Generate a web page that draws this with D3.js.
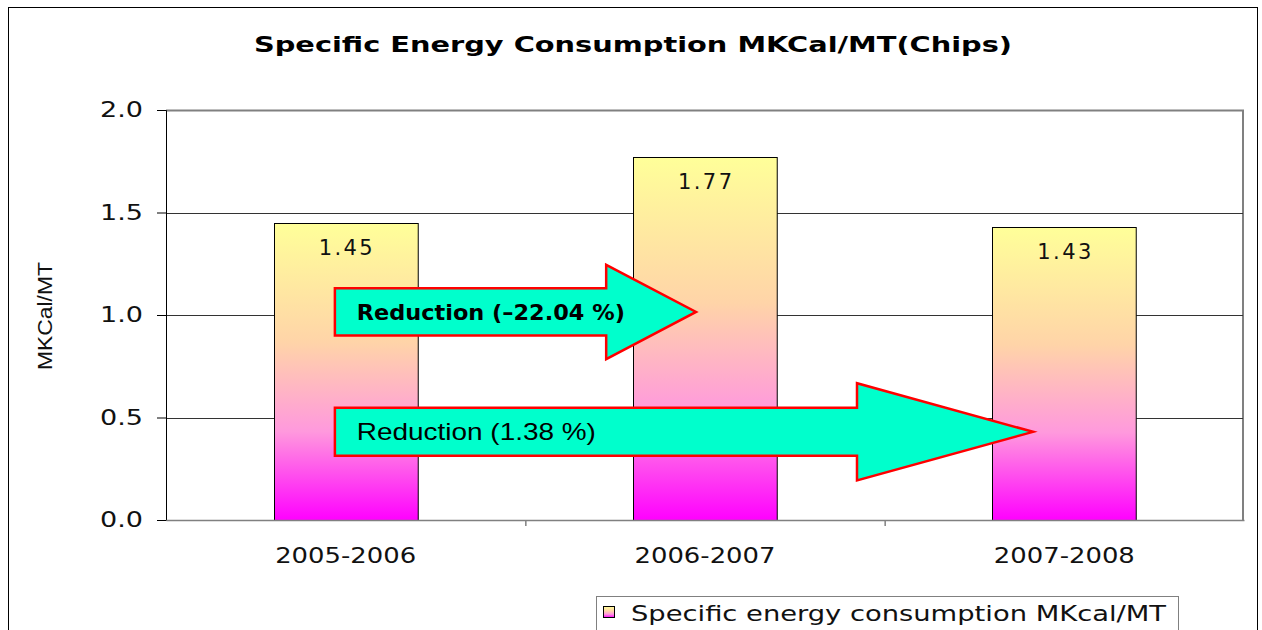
<!DOCTYPE html>
<html>
<head>
<meta charset="utf-8">
<script src="https://cdn.jsdelivr.net/npm/d3@7"></script>
<style>
  body { margin: 0; background: #fff; }
  svg { display: block; }
  .tick text { font-family: "DejaVu Sans", sans-serif; }
</style>
</head>
<body>
<div id="vis"></div>
<script>
// chart frame
const FRAME_WIDTH = 1262;
const FRAME_HEIGHT = 630;
const MARGINS = {left: 166, right: 18, top: 110, bottom: 110};

const VIS_WIDTH = FRAME_WIDTH - MARGINS.left - MARGINS.right;
const VIS_HEIGHT = FRAME_HEIGHT - MARGINS.top - MARGINS.bottom;

// data
const years = ["2005-2006", "2006-2007", "2007-2008"];
const consumption = [1.45, 1.77, 1.43];
const yTicks = [0, 0.5, 1.0, 1.5, 2.0];

// reduction arrows: start / head base / tip in category units, y centre in MKCal/MT
const arrowLabels = ["Reduction (\u201322.04 %)", "Reduction (1.38 %)"];
const arrowStart = [0.47, 0.47];
const arrowHeadBase = [1.225, 1.923];
const arrowTip = [1.475, 2.413];
const arrowCentre = [1.015, 0.43];
const arrowBodyHalf = [0.115, 0.117];
const arrowHeadHalf = [0.23, 0.237];

const svg = d3.select("#vis")
  .append("svg")
    .attr("width", FRAME_WIDTH)
    .attr("height", FRAME_HEIGHT);

// bar gradient
const defs = svg.append("defs");
const grad = defs.append("linearGradient")
    .attr("id", "barGrad")
    .attr("x1", 0).attr("y1", 0).attr("x2", 0).attr("y2", 1);
[["0%", "#ffff99"], ["40%", "#ffd4a8"], ["70%", "#ff99dd"], ["100%", "#ff00ff"]]
  .forEach(s => grad.append("stop").attr("offset", s[0]).attr("stop-color", s[1]));

// outer border
svg.append("rect")
    .attr("x", 8.5).attr("y", 7.5)
    .attr("width", 1249).attr("height", 640)
    .attr("fill", "#fff")
    .attr("stroke", "#000");

svg.append("text")
    .attr("x", 633).attr("y", 52)
    .attr("text-anchor", "middle")
    .attr("font-family", "DejaVu Sans, sans-serif")
    .attr("font-weight", "bold")
    .attr("font-size", "22px")
    .attr("textLength", 758)
    .attr("lengthAdjust", "spacingAndGlyphs")
    .text("Specific Energy Consumption MKCal/MT(Chips)");

const X_SCALE = d3.scaleBand()
    .domain(years)
    .range([0, VIS_WIDTH])
    .paddingInner(0.6)
    .paddingOuter(0.3);

// continuous scale in category units for the arrows
const X_POS = d3.scaleLinear()
    .domain([0, years.length])
    .range([0, VIS_WIDTH]);

const Y_SCALE = d3.scaleLinear()
    .domain([0, 2])
    .range([VIS_HEIGHT, 0]);

const g = svg.append("g")
    .attr("transform", "translate(" + MARGINS.left + "," + MARGINS.top + ")");

// plot area border (top / right)
g.append("path")
    .attr("d", "M0,0.5H" + (VIS_WIDTH - 1) + "V" + VIS_HEIGHT)
    .attr("fill", "none")
    .attr("stroke", "#808080")
    .attr("stroke-width", 2);

// gridlines
g.selectAll(".grid")
  .data(yTicks.filter(d => d > 0 && d < 2))
  .enter()
  .append("line")
    .attr("x1", 0).attr("x2", VIS_WIDTH - 1)
    .attr("y1", d => Math.round(Y_SCALE(d)) + 0.5)
    .attr("y2", d => Math.round(Y_SCALE(d)) + 0.5)
    .attr("stroke", "#333");

// bars
g.selectAll(".bar")
  .data(consumption)
  .enter()
  .append("rect")
    .attr("x", (d, i) => Math.round(X_SCALE(years[i])) + 0.5)
    .attr("y", d => Math.round(Y_SCALE(d)) + 0.5)
    .attr("width", X_SCALE.bandwidth())
    .attr("height", d => VIS_HEIGHT - Math.round(Y_SCALE(d)))
    .attr("fill", "url(#barGrad)")
    .attr("stroke", "#000");

g.selectAll(".val")
  .data(consumption)
  .enter()
  .append("text")
    .attr("x", (d, i) => X_SCALE(years[i]) + X_SCALE.bandwidth() / 2)
    .attr("y", d => Y_SCALE(d) + 32)
    .attr("text-anchor", "middle")
    .attr("font-family", "DejaVu Sans, sans-serif")
    .attr("font-size", "21px")
    .attr("textLength", 54)
    .attr("lengthAdjust", "spacing")
    .attr("fill", "#111")
    .text(d => d.toFixed(2));

// y axis
const yAxis = g.append("g")
    .call(d3.axisLeft(Y_SCALE).tickValues(yTicks).tickFormat(d3.format(".1f")).tickSize(9).tickPadding(22));
yAxis.selectAll("text")
    .attr("font-size", "21px")
    .attr("text-anchor", "start")
    .attr("x", -66)
    .attr("textLength", 43)
    .attr("lengthAdjust", "spacingAndGlyphs")
    .attr("fill", "#111");
yAxis.select(".domain").attr("stroke", "#000");

// x axis
const xAxis = g.append("g")
    .attr("transform", "translate(0," + VIS_HEIGHT + ")")
    .call(d3.axisBottom(X_POS).tickValues([1, 2]).tickFormat("").tickSize(6).tickSizeOuter(0));
xAxis.selectAll("line, path").attr("stroke", "#808080").attr("stroke-width", 1.5);

g.selectAll(".xlab")
  .data(years)
  .enter()
  .append("text")
    .attr("x", d => X_SCALE(d) + X_SCALE.bandwidth() / 2)
    .attr("y", VIS_HEIGHT + 43)
    .attr("text-anchor", "middle")
    .attr("font-family", "DejaVu Sans, sans-serif")
    .attr("font-size", "21px")
    .attr("textLength", 141)
    .attr("lengthAdjust", "spacingAndGlyphs")
    .attr("fill", "#111")
    .text(d => d);

// y axis title
svg.append("text")
    .attr("transform", "translate(52,316) rotate(-90)")
    .attr("text-anchor", "middle")
    .attr("font-family", "Liberation Sans, Arial, sans-serif")
    .attr("font-size", "21px")
    .attr("textLength", 108)
    .attr("lengthAdjust", "spacingAndGlyphs")
    .attr("fill", "#111")
    .text("MKCal/MT");

// arrows
const arrowPath = (i) => {
  const x0 = X_POS(arrowStart[i]), xb = X_POS(arrowHeadBase[i]), xt = X_POS(arrowTip[i]);
  const yc = Y_SCALE(arrowCentre[i]);
  const b = Y_SCALE(0) - Y_SCALE(arrowBodyHalf[i]);
  const h = Y_SCALE(0) - Y_SCALE(arrowHeadHalf[i]);
  return "M" + x0 + "," + (yc - b) + "H" + xb + "V" + (yc - h) + "L" + xt + "," + yc +
         "L" + xb + "," + (yc + h) + "V" + (yc + b) + "H" + x0 + "Z";
};

const arrowTextLen = [268, 239];
arrowLabels.forEach((lab, i) => {
  g.append("path")
      .attr("d", arrowPath(i))
      .attr("fill", "#00ffcc")
      .attr("stroke", "#ff0000")
      .attr("stroke-width", 2.5);
  g.append("text")
      .attr("x", X_POS(arrowStart[i]) + 22)
      .attr("y", Y_SCALE(arrowCentre[i]) + 8)
      .attr("font-family", i === 0 ? "DejaVu Sans, sans-serif" : "Liberation Sans Narrow, Liberation Sans, sans-serif")
      .attr("font-weight", i === 0 ? "bold" : "normal")
      .attr("font-size", i === 0 ? "21px" : "24px")
      .attr("textLength", arrowTextLen[i])
      .attr("lengthAdjust", "spacingAndGlyphs")
      .attr("fill", "#000")
      .text(lab);
});

// legend
const legend = svg.append("g").attr("transform", "translate(596,596)");
legend.append("rect")
    .attr("x", 0.5).attr("y", 0.5)
    .attr("width", 582).attr("height", 60)
    .attr("fill", "#fff")
    .attr("stroke", "#808080");
legend.append("rect")
    .attr("x", 7.5).attr("y", 10.5)
    .attr("width", 11).attr("height", 11)
    .attr("fill", "url(#barGrad)")
    .attr("stroke", "#000");
legend.append("text")
    .attr("x", 35).attr("y", 25)
    .attr("font-family", "DejaVu Sans, sans-serif")
    .attr("font-size", "21px")
    .attr("textLength", 535)
    .attr("lengthAdjust", "spacingAndGlyphs")
    .attr("fill", "#111")
    .text("Specific energy consumption MKcal/MT");
</script>
</body>
</html>
